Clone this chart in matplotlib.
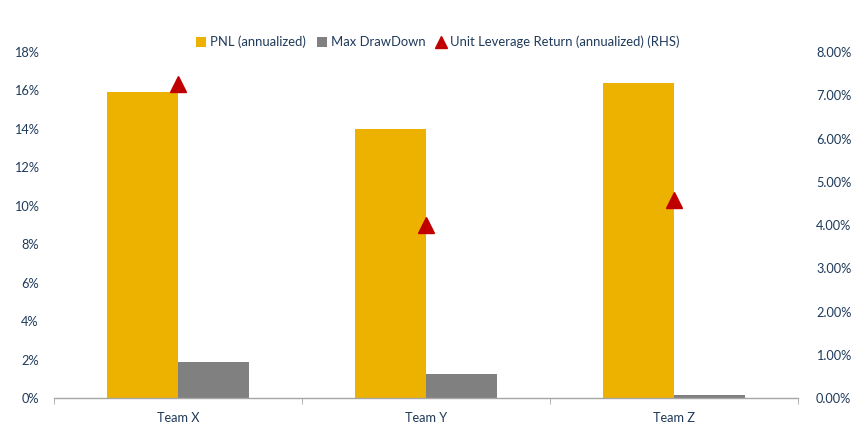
import matplotlib
matplotlib.use("Agg")
import matplotlib.pyplot as plt
from matplotlib.ticker import FuncFormatter, MultipleLocator
from matplotlib.lines import Line2D
from matplotlib.patches import Patch
import numpy as np

teams = ["Team X", "Team Y", "Team Z"]
pnl = [15.9, 14.0, 16.4]           # % annualized (LHS)
max_dd = [1.9, 1.25, 0.15]         # % (LHS)
unit_lev_ret = [7.25, 4.0, 4.57]   # % annualized (RHS)

yellow = "#EDB100"
gray = "#808080"
red = "#C00000"
txt = "#1F3A5A"
font = "Lato"

fig = plt.figure(figsize=(8.6, 4.29), dpi=100)
ax = fig.add_axes([54/860, 1-398.3/429, 744/860, (398.3-52)/429])
x = np.arange(len(teams))
w = 0.286
ax.bar(x - w/2, pnl, width=w, color=yellow, zorder=2)
ax.bar(x + w/2, max_dd, width=w, color=gray, zorder=2)
ax.set_xlim(-0.5, len(teams) - 0.5)
ax.set_ylim(0, 18)
ax.yaxis.set_major_locator(MultipleLocator(2))
ax.yaxis.set_major_formatter(FuncFormatter(lambda v, p: f"{v:.0f}%"))
for s in ["top", "right", "left"]:
    ax.spines[s].set_visible(False)
ax.spines["bottom"].set_color("#A6A6A6")
ax.spines["bottom"].set_linewidth(1.0)
ax.set_xticks(x)
ax.set_xticklabels(teams)
ax.set_xticks(np.arange(-0.5, len(teams)), minor=True)
ax.tick_params(axis="x", which="major", length=0, pad=10)
ax.tick_params(axis="x", which="minor", length=4, color="#A6A6A6", direction="out")
ax.tick_params(axis="y", length=0, pad=11)
for lab in ax.get_xticklabels() + ax.get_yticklabels():
    lab.set_fontfamily(font); lab.set_fontsize(9.2); lab.set_color(txt)

ax2 = ax.twinx()
ax2.plot(x, unit_lev_ret, linestyle="none", marker="^", markersize=12, color=red, zorder=3)
ax2.set_ylim(0, 8)
ax2.yaxis.set_major_locator(MultipleLocator(1))
ax2.yaxis.set_major_formatter(FuncFormatter(lambda v, p: f"{v:.2f}%"))
for s in ["top", "right", "left", "bottom"]:
    ax2.spines[s].set_visible(False)
ax2.tick_params(axis="y", length=0, pad=13)
for lab in ax2.get_yticklabels():
    lab.set_fontfamily(font); lab.set_fontsize(9.2); lab.set_color(txt)

handles = [
    Patch(facecolor=yellow, label="PNL (annualized)"),
    Patch(facecolor=gray, label="Max DrawDown"),
    Line2D([], [], linestyle="none", marker="^", markersize=9, color=red,
           label="Unit Leverage Return (annualized) (RHS)"),
]
leg = fig.legend(handles=handles, loc="center", bbox_to_anchor=(438/860, 1-42/429), ncol=3,
                 frameon=False, handlelength=0.8, handleheight=0.8, handletextpad=0.3,
                 columnspacing=0.8, prop={"family": font, "size": 9.4})
for t in leg.get_texts():
    t.set_color(txt)

fig.savefig("out.png", dpi=100)
